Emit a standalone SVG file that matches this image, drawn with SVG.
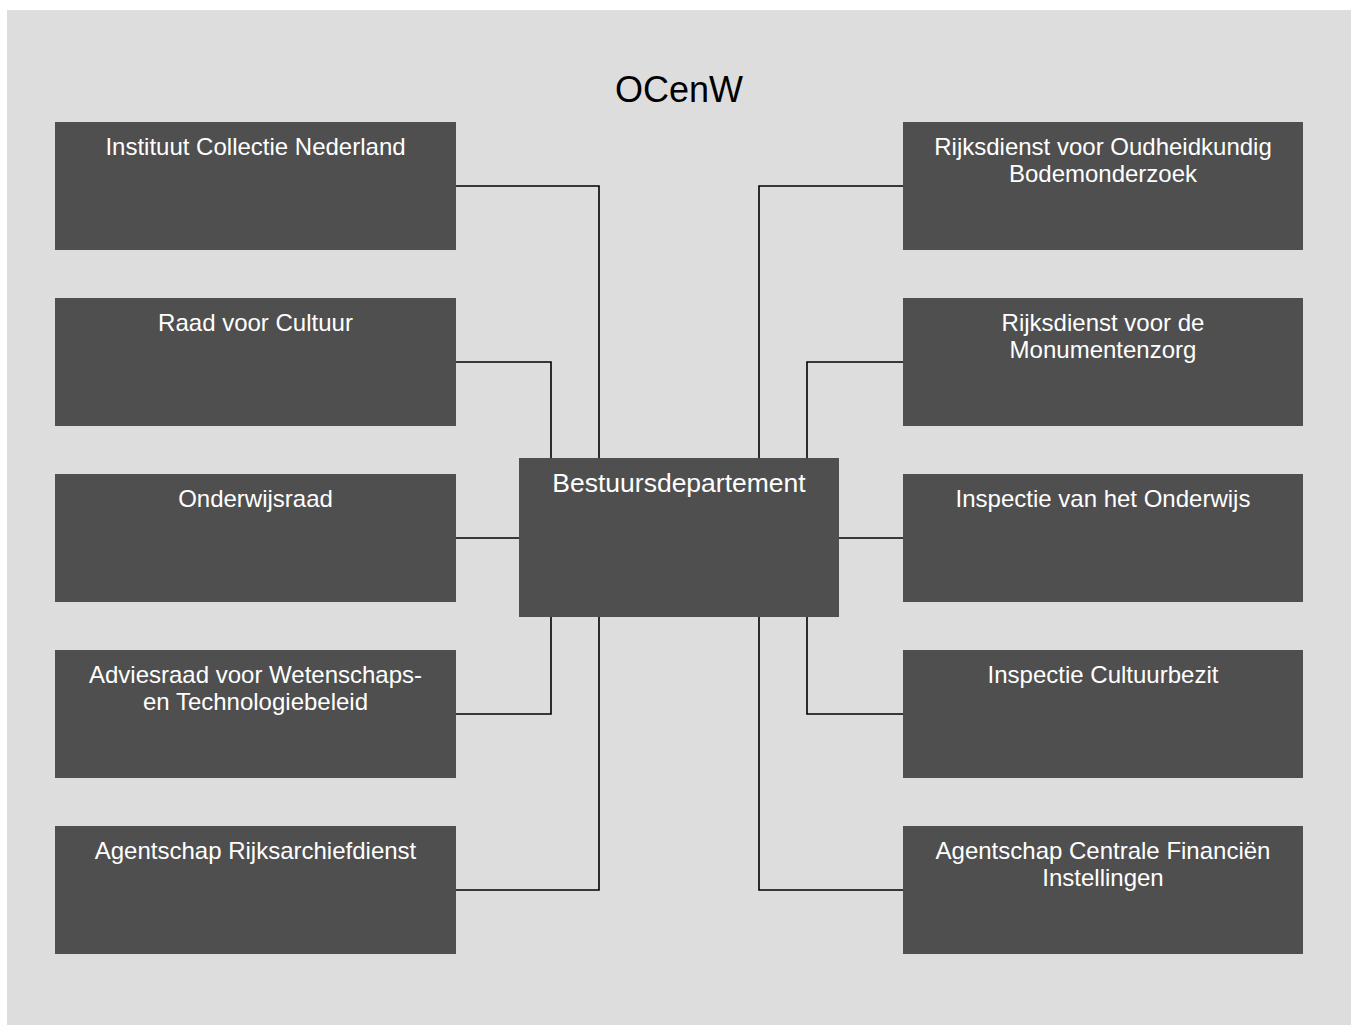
<svg xmlns="http://www.w3.org/2000/svg" width="1351" height="1025" viewBox="0 0 1351 1025">
<style>
.box{fill:#4f4f4f}
.lbl{font-family:"Liberation Sans",Arial,sans-serif;font-size:24px;fill:#ffffff;text-anchor:middle}
.big{font-size:26.5px}
.ttl{font-family:"Liberation Sans",Arial,sans-serif;font-size:36px;fill:#000000;text-anchor:middle}
.con{fill:none;stroke:#000000;stroke-width:1.6}
</style>
<rect x="7" y="10" width="1344" height="1015" fill="#dddddd"/>
<text class="ttl" x="679" y="102">OCenW</text>
<g id="connectors">
<polyline class="con" points="456,186 599,186 599,458"/>
<polyline class="con" points="456,362 551,362 551,458"/>
<polyline class="con" points="456,538 519,538"/>
<polyline class="con" points="456,714 551,714 551,617"/>
<polyline class="con" points="456,890 599,890 599,617"/>
<polyline class="con" points="903,186 759,186 759,458"/>
<polyline class="con" points="903,362 807,362 807,458"/>
<polyline class="con" points="903,538 839,538"/>
<polyline class="con" points="903,714 807,714 807,617"/>
<polyline class="con" points="903,890 759,890 759,617"/>
</g>
<g id="bestuursdepartement">
<rect class="box" x="519" y="458" width="320" height="159"/>
<text class="lbl big" x="679" y="492">Bestuursdepartement</text>
</g>
<g id="icn">
<rect class="box" x="55" y="122" width="401" height="128"/>
<text class="lbl" x="255.5" y="155">Instituut Collectie Nederland</text>
</g>
<g id="raad-cultuur">
<rect class="box" x="55" y="298" width="401" height="128"/>
<text class="lbl" x="255.5" y="331">Raad voor Cultuur</text>
</g>
<g id="onderwijsraad">
<rect class="box" x="55" y="474" width="401" height="128"/>
<text class="lbl" x="255.5" y="507">Onderwijsraad</text>
</g>
<g id="awt">
<rect class="box" x="55" y="650" width="401" height="128"/>
<text class="lbl" x="255.5" y="683">Adviesraad voor Wetenschaps-</text>
<text class="lbl" x="255.5" y="710">en Technologiebeleid</text>
</g>
<g id="rijksarchiefdienst">
<rect class="box" x="55" y="826" width="401" height="128"/>
<text class="lbl" x="255.5" y="859">Agentschap Rijksarchiefdienst</text>
</g>
<g id="rob">
<rect class="box" x="903" y="122" width="400" height="128"/>
<text class="lbl" x="1103" y="155">Rijksdienst voor Oudheidkundig</text>
<text class="lbl" x="1103" y="182">Bodemonderzoek</text>
</g>
<g id="rdmz">
<rect class="box" x="903" y="298" width="400" height="128"/>
<text class="lbl" x="1103" y="331">Rijksdienst voor de</text>
<text class="lbl" x="1103" y="358">Monumentenzorg</text>
</g>
<g id="inspectie-onderwijs">
<rect class="box" x="903" y="474" width="400" height="128"/>
<text class="lbl" x="1103" y="507">Inspectie van het Onderwijs</text>
</g>
<g id="inspectie-cultuurbezit">
<rect class="box" x="903" y="650" width="400" height="128"/>
<text class="lbl" x="1103" y="683">Inspectie Cultuurbezit</text>
</g>
<g id="cfi">
<rect class="box" x="903" y="826" width="400" height="128"/>
<text class="lbl" x="1103" y="859">Agentschap Centrale Financiën</text>
<text class="lbl" x="1103" y="886">Instellingen</text>
</g>
</svg>
